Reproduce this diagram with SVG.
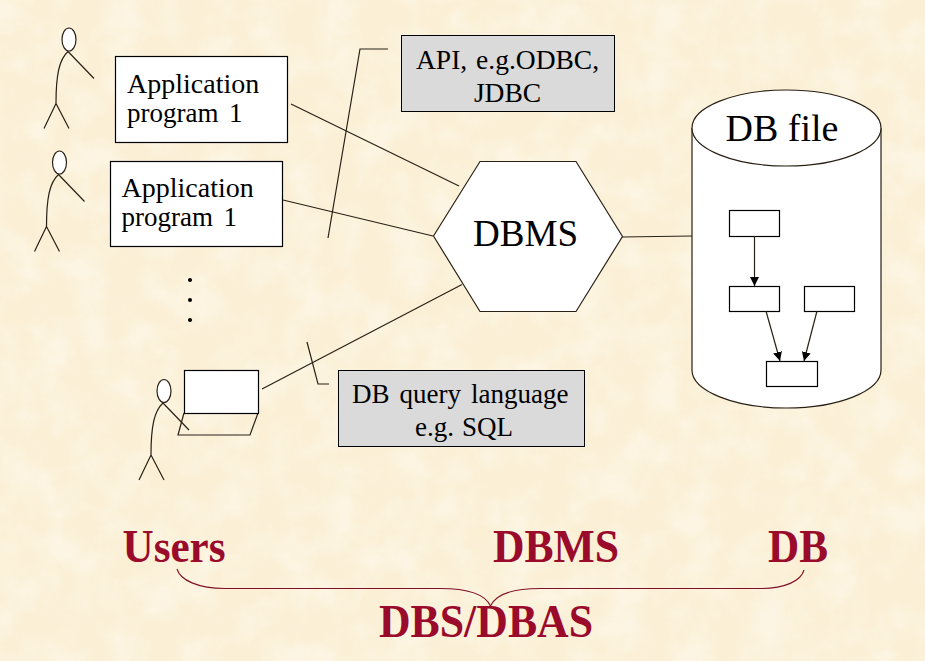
<svg xmlns="http://www.w3.org/2000/svg" width="925" height="661" viewBox="0 0 925 661">
<style>
.ln{fill:none;stroke:#2a2116;stroke-width:1.2}
.bx{fill:#fff;stroke:#000;stroke-width:1.2}
.gy{fill:#dadada;stroke:#000;stroke-width:1}
.wh{fill:#fff;stroke:#2a2116;stroke-width:1.2}
text{font-family:"Liberation Serif","Times New Roman",serif;fill:#000}
.t{font-size:27.5px}
.a{font-size:28px}
.p{font-size:27px;word-spacing:3.75px}
.big{font-size:38px}
.red{font-size:46px;font-weight:bold;fill:#990a2b}
</style>
<defs>
<filter id="light" x="0" y="0" width="100%" height="100%">
<feTurbulence type="fractalNoise" baseFrequency="0.028" numOctaves="4" seed="4"/>
<feColorMatrix type="matrix" values="0 0 0 0 1  0 0 0 0 0.97  0 0 0 0 0.90  2.6 0 0 0 -1.05"/>
</filter>
<filter id="dark" x="0" y="0" width="100%" height="100%">
<feTurbulence type="fractalNoise" baseFrequency="0.035" numOctaves="4" seed="11"/>
<feColorMatrix type="matrix" values="0 0 0 0 0.96  0 0 0 0 0.88  0 0 0 0 0.70  2.6 0 0 0 -1.15"/>
</filter>
<marker id="ah" viewBox="0 0 10 10" refX="10" refY="5" markerWidth="9" markerHeight="9" markerUnits="userSpaceOnUse" orient="auto"><path d="M0 0L10 5L0 10Z" fill="#000"/></marker>
<g id="stick"><ellipse cx="0" cy="0" rx="7" ry="11.5" class="wh"/><path class="ln" d="M-1 12C-10 20 -13 36 -13 64M-13 64L-25 89M-13 64L0 89M-1 12L25 39"/></g>
</defs>
<rect width="925" height="661" fill="#fbf0d6"/>
<rect width="925" height="661" filter="url(#dark)" opacity=".3"/>
<rect width="925" height="661" filter="url(#light)" opacity=".45"/>
<g id="connectors">
<path class="ln" d="M291 104L459 186"/>
<path class="ln" d="M283 200L433 236"/>
<path class="ln" d="M262 389L462 284.500"/>
<path class="ln" d="M622 237L692 236"/>
<path class="ln" d="M388 49H360L328 238"/>
<path class="ln" d="M307 342L318 384H329"/>
</g>
<g id="user1"><use href="#stick" x="69" y="39.500"/></g>
<g id="user2"><use href="#stick" x="59.500" y="162.500"/></g>
<g id="app1"><rect class="bx" x="115.500" y="56.500" width="172" height="86"/><text class="a" x="127" y="93">Application</text><text class="p" x="127" y="122">program 1</text></g>
<g id="app2"><rect class="bx" x="110.500" y="161.500" width="172" height="85"/><text class="a" x="121.500" y="197">Application</text><text class="p" x="121.500" y="226">program 1</text></g>
<g id="dots"><circle cx="190" cy="280" r="2" fill="#000"/><circle cx="190" cy="300" r="2" fill="#000"/><circle cx="190" cy="320" r="2" fill="#000"/></g>
<g id="laptop"><path class="ln" d="M184 413L178 435H250L258 413"/><rect class="bx" x="184.500" y="370.500" width="74" height="43"/></g>
<g id="user3"><use href="#stick" x="164" y="391"/></g>
<g id="api"><rect class="gy" x="401.500" y="35.500" width="213" height="76"/><text class="t" x="416" y="69" style="word-spacing:2px">API, e.g.ODBC,</text><text class="t" x="507.500" y="102" text-anchor="middle">JDBC</text></g>
<g id="sql"><rect class="gy" x="338.500" y="370.500" width="246" height="76"/><text x="352" y="403" style="font-size:27px;word-spacing:3.300px">DB query language</text><text x="415" y="436" style="font-size:27px;word-spacing:1.300px">e.g. SQL</text></g>
<g id="dbms"><polygon class="wh" points="433.500,236 480,161.500 576,161.500 622.500,236.500 576,311.500 480,311.500"/><text class="big" x="473" y="246" textLength="105" lengthAdjust="spacingAndGlyphs">DBMS</text></g>
<g id="dbfile"><path class="wh" d="M692 128V370A94.500 38 0 0 0 881 370V128"/><ellipse class="wh" cx="786.500" cy="128" rx="94.500" ry="38"/><text class="big" x="782" y="141" text-anchor="middle">DB file</text>
<rect class="bx" x="729.500" y="210.500" width="50" height="26"/><rect class="bx" x="729.500" y="286.500" width="50" height="25"/><rect class="bx" x="804.500" y="286.500" width="50" height="25"/><rect class="bx" x="766.500" y="361.500" width="51" height="25"/>
<path class="ln" marker-end="url(#ah)" d="M754.500 236V286"/><path class="ln" marker-end="url(#ah)" d="M766 311L780 361"/><path class="ln" marker-end="url(#ah)" d="M817 311L804 361"/></g>
<g id="labels"><path d="M177 569C180 580 198 588.500 225 588.500H440C468 588.500 485 594 490.500 606C496 594 513 588.500 540 588.500H760C785 588.500 801 581 804 570" fill="none" stroke="#7e0f26" stroke-width="1.100"/>
<text class="red" x="122.500" y="562" textLength="103" lengthAdjust="spacingAndGlyphs">Users</text><text class="red" x="493" y="561.500" textLength="126" lengthAdjust="spacingAndGlyphs">DBMS</text><text class="red" x="768" y="561.500" textLength="60" lengthAdjust="spacingAndGlyphs">DB</text><text class="red" x="379" y="637" textLength="214" lengthAdjust="spacingAndGlyphs">DBS/DBAS</text></g>
</svg>
